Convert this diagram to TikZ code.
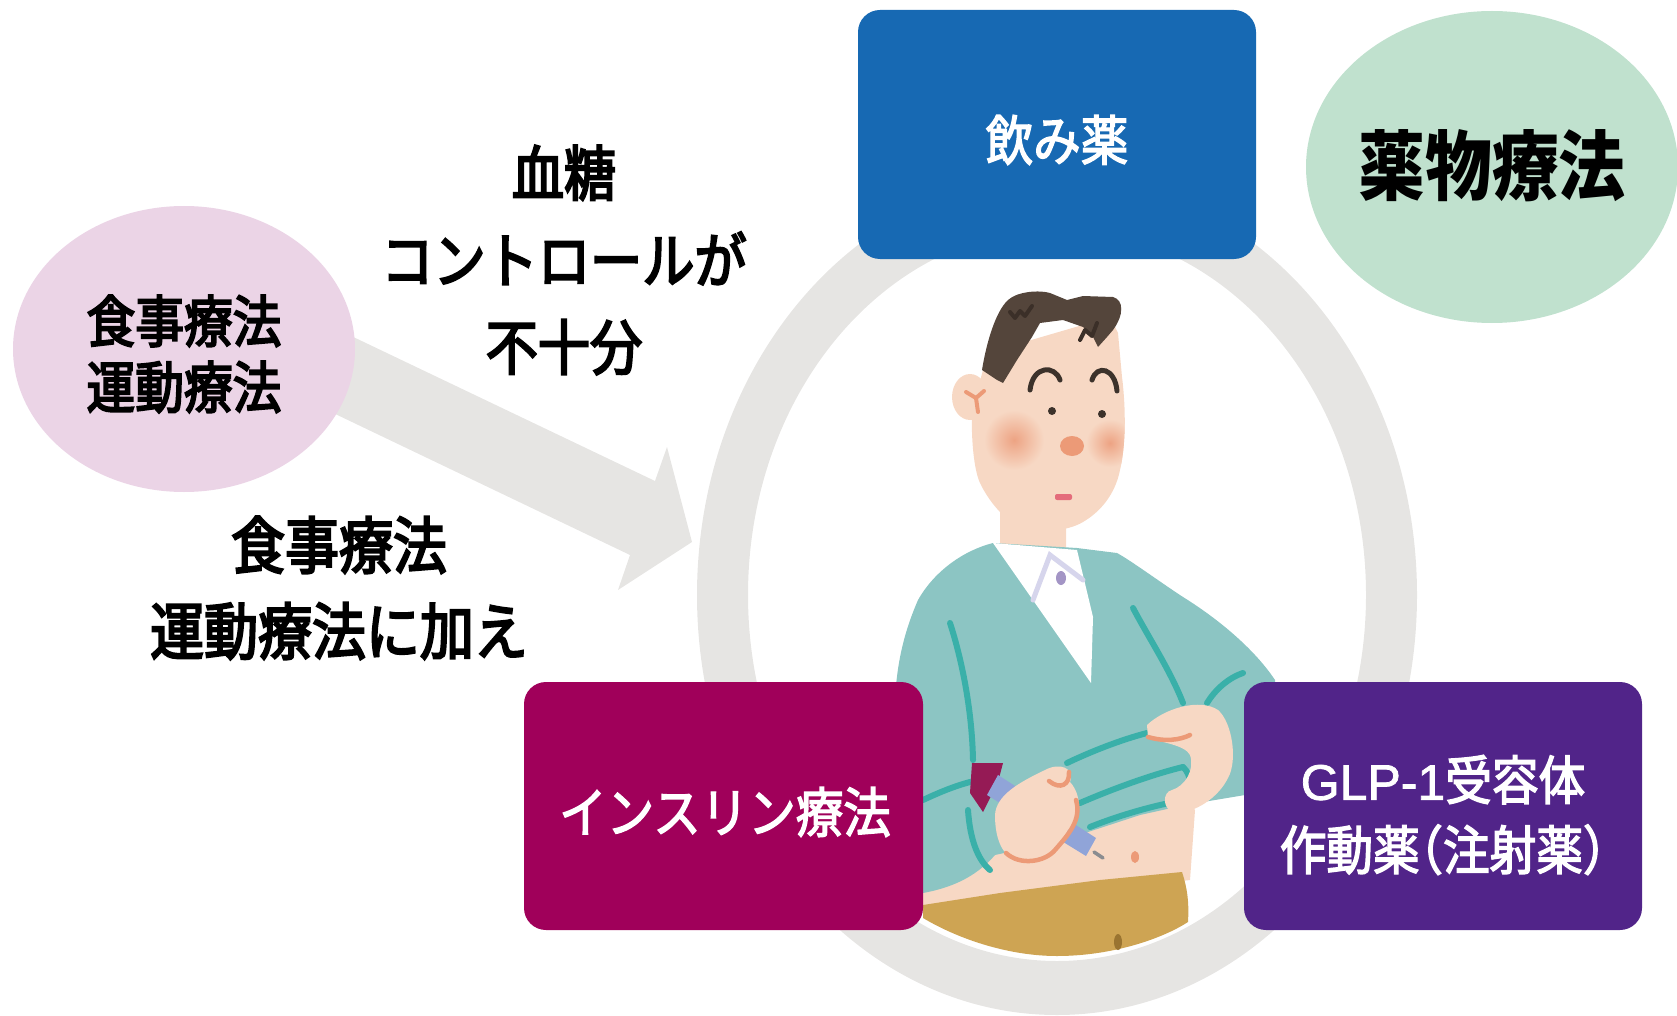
\documentclass[tikz,border=0pt]{standalone}
\usepackage{fontspec}
\newfontfamily\jpfont[FakeStretch=0.88]{Noto Sans CJK JP}
\newfontfamily\jpwhite[FakeStretch=0.88,FakeBold=2.5]{Noto Sans CJK JP}
\newfontfamily\jpdark[FakeStretch=0.87,FakeBold=3.5]{Noto Sans CJK JP}
\newfontfamily\latinfont[FakeBold=1.5]{Liberation Sans}
\usetikzlibrary{shapes.geometric}

\definecolor{ringgray}{HTML}{E6E5E3}
\definecolor{oralblue}{HTML}{1769B3}
\definecolor{insmag}{HTML}{A0005A}
\definecolor{glppurple}{HTML}{512489}
\definecolor{dietpink}{HTML}{EBD4E6}
\definecolor{drugmint}{HTML}{C0E1CE}
\definecolor{sweater}{HTML}{8CC5C3}
\definecolor{sweaterline}{HTML}{3AB0A9}
\definecolor{skin}{HTML}{F7D8C4}
\definecolor{hair}{HTML}{54453B}
\definecolor{hairdark}{HTML}{3B2F28}
\definecolor{blush}{HTML}{EDA383}
\definecolor{nosec}{HTML}{EC9A77}
\definecolor{mouthc}{HTML}{E46C7B}
\definecolor{pants}{HTML}{CEA453}
\definecolor{pantsdark}{HTML}{9A7431}
\definecolor{collarc}{HTML}{D6D5EC}
\definecolor{buttonc}{HTML}{A395C5}
\definecolor{penblue}{HTML}{90A4D8}
\definecolor{pencap}{HTML}{951A55}
\definecolor{needlec}{HTML}{8A8C90}
\definecolor{browc}{HTML}{3C322B}

\tikzset{
  therapybox/.style={rounded corners=22pt, inner sep=0pt},
  boxtext/.style={text=white, align=center, inner sep=0pt},
  darktext/.style={text=black, align=center, inner sep=0pt},
  seam/.style={draw=sweaterline, line width=6pt, line cap=round},
  skinline/.style={draw=nosec, line width=4.5pt, line cap=round},
}

% narrow parentheses inside Japanese text
\newcommand\nlp{{\addfontfeature{RawFeature=+halt}（}}
\newcommand\nrp{{\addfontfeature{RawFeature=+halt}）}}

\newcommand\faceoutline{(997,350) -- (983,370) -- (972,410)
  .. controls (971,440) and (974,470) .. (980,483)
  .. controls (988,500) and (1005,522) .. (1023,528)
  .. controls (1040,534) and (1068,531) .. (1083,522)
  .. controls (1100,512) and (1115,495) .. (1120,470)
  .. controls (1127,440) and (1125,400) .. (1122,377)
  -- (1118,333) -- (1110,317) -- cycle}

\begin{document}
\begin{tikzpicture}[x=1pt,y=-1pt]
\useasboundingbox (0,0) rectangle (1677,1016);

% ring around the patient
\fill[ringgray, even odd rule]
  (1057,595) ellipse [x radius=360pt, y radius=420pt]
  (1057,595) ellipse [x radius=309pt, y radius=366pt];

% broad arrow from lifestyle therapy towards the ring
\fill[ringgray] (280,302) -- (655,481) -- (667,447) -- (692,542)
  -- (618,590) -- (630,555) -- (260,378) -- cycle;

% lifestyle therapy bubble
\node[ellipse, fill=dietpink, minimum width=342pt, minimum height=286pt, inner sep=0pt] (diet) at (184,349) {};
\node[darktext, font=\jpdark\fontsize{56}{66}\selectfont] (diettext) at (184,354) {食事療法\\運動療法};

% drug therapy bubble
\node[ellipse, fill=drugmint, minimum width=372pt, minimum height=312pt, inner sep=0pt] (drug) at (1492,167) {};
\node[darktext, font=\jpfont\bfseries\fontsize{76}{80}\selectfont] (drugtext) at (1492,166) {薬物療法};

% captions
\node[darktext, font=\jpdark\fontsize{60}{87}\selectfont] (control) at (564,260) {血糖\\コントロールが\\不十分};
\node[darktext, font=\jpdark\fontsize{62}{86}\selectfont] (inaddition) at (339,588) {食事療法\\運動療法に加え};

% ---------- patient ----------
% neck
\fill[skin] (1000,505) -- (1066,505) -- (1066,555) -- (1000,552) -- cycle;
% belly
\fill[skin] (923,860) -- (1000,845) -- (1100,815) -- (1180,795) -- (1195,810)
  -- (1190,880) -- (923,912) -- cycle;
\fill[nosec] (1135,857) ellipse [x radius=4pt, y radius=6pt];
% trousers
\fill[pants] (923,905) -- (1000,893) -- (1100,880) -- (1182,872)
  .. controls (1188,890) and (1189,905) .. (1188,922)
  .. controls (1160,940) and (1110,956) .. (1057,956)
  .. controls (1010,956) and (960,940) .. (923,918) -- cycle;
\fill[pantsdark] (1118,942) ellipse [x radius=4pt, y radius=8pt];
% sweater
\fill[sweater] (993,543) .. controls (965,550) and (935,570) .. (918,600)
  .. controls (905,630) and (897,660) .. (895,700)
  -- (893,800) -- (900,885) -- (923,893)
  .. controls (950,888) and (975,878) .. (995,855)
  -- (1040,845) -- (1085,833) -- (1140,815) -- (1185,805) -- (1245,795)
  .. controls (1268,770) and (1278,720) .. (1275,680)
  .. controls (1255,650) and (1220,620) .. (1183,597)
  .. controls (1160,582) and (1130,560) .. (1117,553)
  -- (1077,548) -- cycle;
% sweater seams and folds
\draw[seam] (950,623) .. controls (962,660) and (972,710) .. (973,760);
\draw[seam] (968,810) .. controls (970,840) and (978,860) .. (990,870);
\draw[seam] (1133,608) .. controls (1150,640) and (1170,670) .. (1183,703);
\draw[seam] (1207,703) .. controls (1215,690) and (1228,678) .. (1243,673);
\draw[seam] (923,800) .. controls (940,792) and (955,786) .. (970,782);
\draw[seam] (1067,763) .. controls (1090,752) and (1120,740) .. (1147,733);
\draw[seam] (1080,803) .. controls (1110,790) and (1150,775) .. (1183,767);
\draw[seam] (1090,827) .. controls (1120,815) and (1155,805) .. (1185,800);
\draw[seam] (1183,767) .. controls (1192,775) and (1192,790) .. (1185,800);
% shirt and collar
\fill[white] (993,543) -- (1077,550) -- (1093,617) -- (1091,683) -- cycle;
\draw[collarc, line width=5pt, line cap=round] (1033,600) -- (1050,555) -- (1083,580);
\fill[buttonc] (1061,578) ellipse [x radius=5pt, y radius=7pt];
% right hand lifting the sweater
\fill[skin] (1147,725) .. controls (1165,708) and (1200,698) .. (1218,710)
  .. controls (1232,722) and (1238,760) .. (1228,778)
  .. controls (1218,798) and (1195,813) .. (1175,813)
  .. controls (1162,810) and (1162,792) .. (1172,790)
  .. controls (1185,786) and (1195,770) .. (1190,755)
  .. controls (1185,745) and (1160,742) .. (1148,738) -- cycle;
\draw[skinline] (1148,737) .. controls (1165,742) and (1180,740) .. (1190,735);
% injection pen
\fill[pencap] (972,763) -- (1003,763) -- (998,782) -- (983,812) -- (970,793) -- cycle;
\fill[penblue] (998,775) -- (1096,838) -- (1086,856) -- (987,795) -- cycle;
\draw[needlec, line width=3.5pt, line cap=round] (1094,852) -- (1103,858);
% left hand gripping the pen
\fill[skin] (995,815) .. controls (996,795) and (1020,782) .. (1045,770)
  .. controls (1060,762) and (1075,768) .. (1070,782)
  .. controls (1082,795) and (1082,818) .. (1068,830)
  .. controls (1060,845) and (1048,860) .. (1030,862)
  .. controls (1010,864) and (995,850) .. (995,815) -- cycle;
\draw[skinline] (1006,853) .. controls (1020,866) and (1045,862) .. (1055,850)
  .. controls (1068,835) and (1082,820) .. (1076,800);
\draw[skinline] (1049,781) .. controls (1060,790) and (1070,785) .. (1069,772);
% face
\fill[skin] \faceoutline;
\fill[skin] (970,397) ellipse [x radius=18pt, y radius=23pt];
\draw[skinline, line width=4pt] (966,392) -- (976,398) -- (984,391) (976,398) -- (978,412);
\begin{scope}
  \clip \faceoutline;
  \shade[inner color=blush, outer color=skin] (1014,440) circle [radius=30pt];
  \shade[inner color=blush, outer color=skin] (1110,443) circle [radius=24pt];
\end{scope}
% hair
\fill[hair] (982,370) .. controls (986,345) and (995,312) .. (1008,300)
  .. controls (1018,291) and (1040,290) .. (1050,293)
  -- (1067,300) -- (1083,296) -- (1113,297)
  .. controls (1124,300) and (1124,315) .. (1113,330)
  -- (1107,337) -- (1098,347) -- (1093,337)
  -- (1083,327) -- (1063,320) -- (1040,323) -- (1032,337) -- (1017,360)
  -- (1003,383) -- (997,380) -- cycle;
\draw[hairdark, line width=4pt, line cap=round, line join=round]
  (1010,312) -- (1015,318) -- (1020,311) -- (1025,316) -- (1032,306);
\draw[hairdark, line width=4pt, line cap=round, line join=round]
  (1080,340) -- (1085,330) -- (1092,336) -- (1097,323);
% eyebrows, eyes, nose, mouth
\draw[browc, line width=5pt, line cap=round] (1030,390) .. controls (1033,365) and (1055,365) .. (1060,380);
\draw[browc, line width=5pt, line cap=round] (1092,380) .. controls (1097,364) and (1115,368) .. (1117,391);
\fill[browc] (1052,411) circle [radius=4pt];
\fill[browc] (1102,414) circle [radius=4pt];
\fill[nosec] (1072,446) ellipse [x radius=12pt, y radius=10pt];
\fill[mouthc, rounded corners=2pt] (1055,494) rectangle (1072,500);

% ---------- therapy boxes ----------
\node[therapybox, fill=oralblue, minimum width=398pt, minimum height=249pt] (oral) at (1057,134.5) {};
\node[boxtext, font=\jpwhite\fontsize{54}{60}\selectfont] (oraltext) at (1057,140) {飲み薬};

\node[therapybox, fill=insmag, minimum width=399pt, minimum height=248pt] (insulin) at (723.5,806) {};
\node[boxtext, font=\jpwhite\fontsize{54}{60}\selectfont] (insulintext) at (725,812) {インスリン療法};

\node[therapybox, fill=glppurple, minimum width=398pt, minimum height=248pt] (glp) at (1443,806) {};
\node[boxtext, font=\jpwhite\fontsize{53}{70}\selectfont] (glptext) at (1443,815)
  {{\latinfont\fontsize{50}{70}\selectfont GLP-1}受容体\\作動薬\nlp 注射薬\nrp};
\end{tikzpicture}
\end{document}
